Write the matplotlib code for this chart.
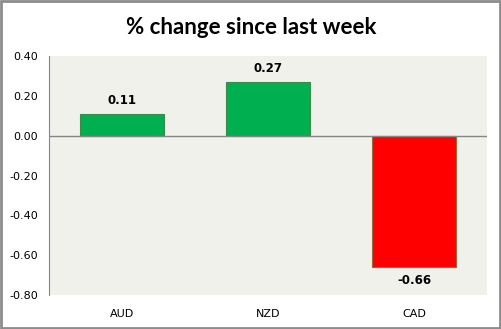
import matplotlib.pyplot as plt
from matplotlib.patches import Rectangle

# data
currencies = ["AUD", "NZD", "CAD"]
changes = [0.11, 0.27, -0.66]
yticks = [0.40, 0.20, 0.00, -0.20, -0.40, -0.60, -0.80]

colors = ["#00B050" if v >= 0 else "#FF0000" for v in changes]
edges = ["#3f8a4a" if v >= 0 else "#9a6a3a" for v in changes]

fig = plt.figure(figsize=(5.02, 3.29), dpi=100)
# outer chart border
fig.patches.append(Rectangle((0.002, 0.004), 0.994, 0.992, transform=fig.transFigure,
                             fill=False, edgecolor="#8c8c8c", linewidth=2))

ax = fig.add_axes([49 / 502, 1 - 295 / 329, (487 - 49) / 502, (295 - 56) / 329])
ax.set_facecolor("#EFF1EA")

x = range(len(currencies))
bars = ax.bar(x, changes, width=0.57, color=colors, edgecolor=edges, linewidth=0.8, zorder=3)

ax.set_xlim(-0.5, 2.5)
ax.set_ylim(-0.8, 0.4)
ax.set_yticks(yticks)
ax.set_yticklabels([f"{t:.2f}" for t in yticks], fontsize=8, family="DejaVu Sans")
ax.set_xticks(list(x))
ax.set_xticklabels(currencies, fontsize=8, family="DejaVu Sans")
ax.tick_params(length=0)
ax.tick_params(axis="x", pad=10)
ax.tick_params(axis="y", pad=8)

for s in ["top", "right", "bottom"]:
    ax.spines[s].set_visible(False)
ax.spines["left"].set_color("#868686")
ax.axhline(0, color="#868686", linewidth=1, zorder=4)

for b, v in zip(bars, changes):
    xc = b.get_x() + b.get_width() / 2
    if v >= 0:
        ax.text(xc, v + 0.035, f"{v:.2f}", ha="center", va="bottom", fontsize=8.5, fontweight="bold")
    else:
        ax.text(xc, v - 0.035, f"{v:.2f}", ha="center", va="top", fontsize=8.5, fontweight="bold")

fig.text(0.5, 1 - 27 / 329, "% change since last week", ha="center", va="center",
         fontsize=16, fontweight="bold", family="Lato")

fig.savefig("out.png", dpi=100)
